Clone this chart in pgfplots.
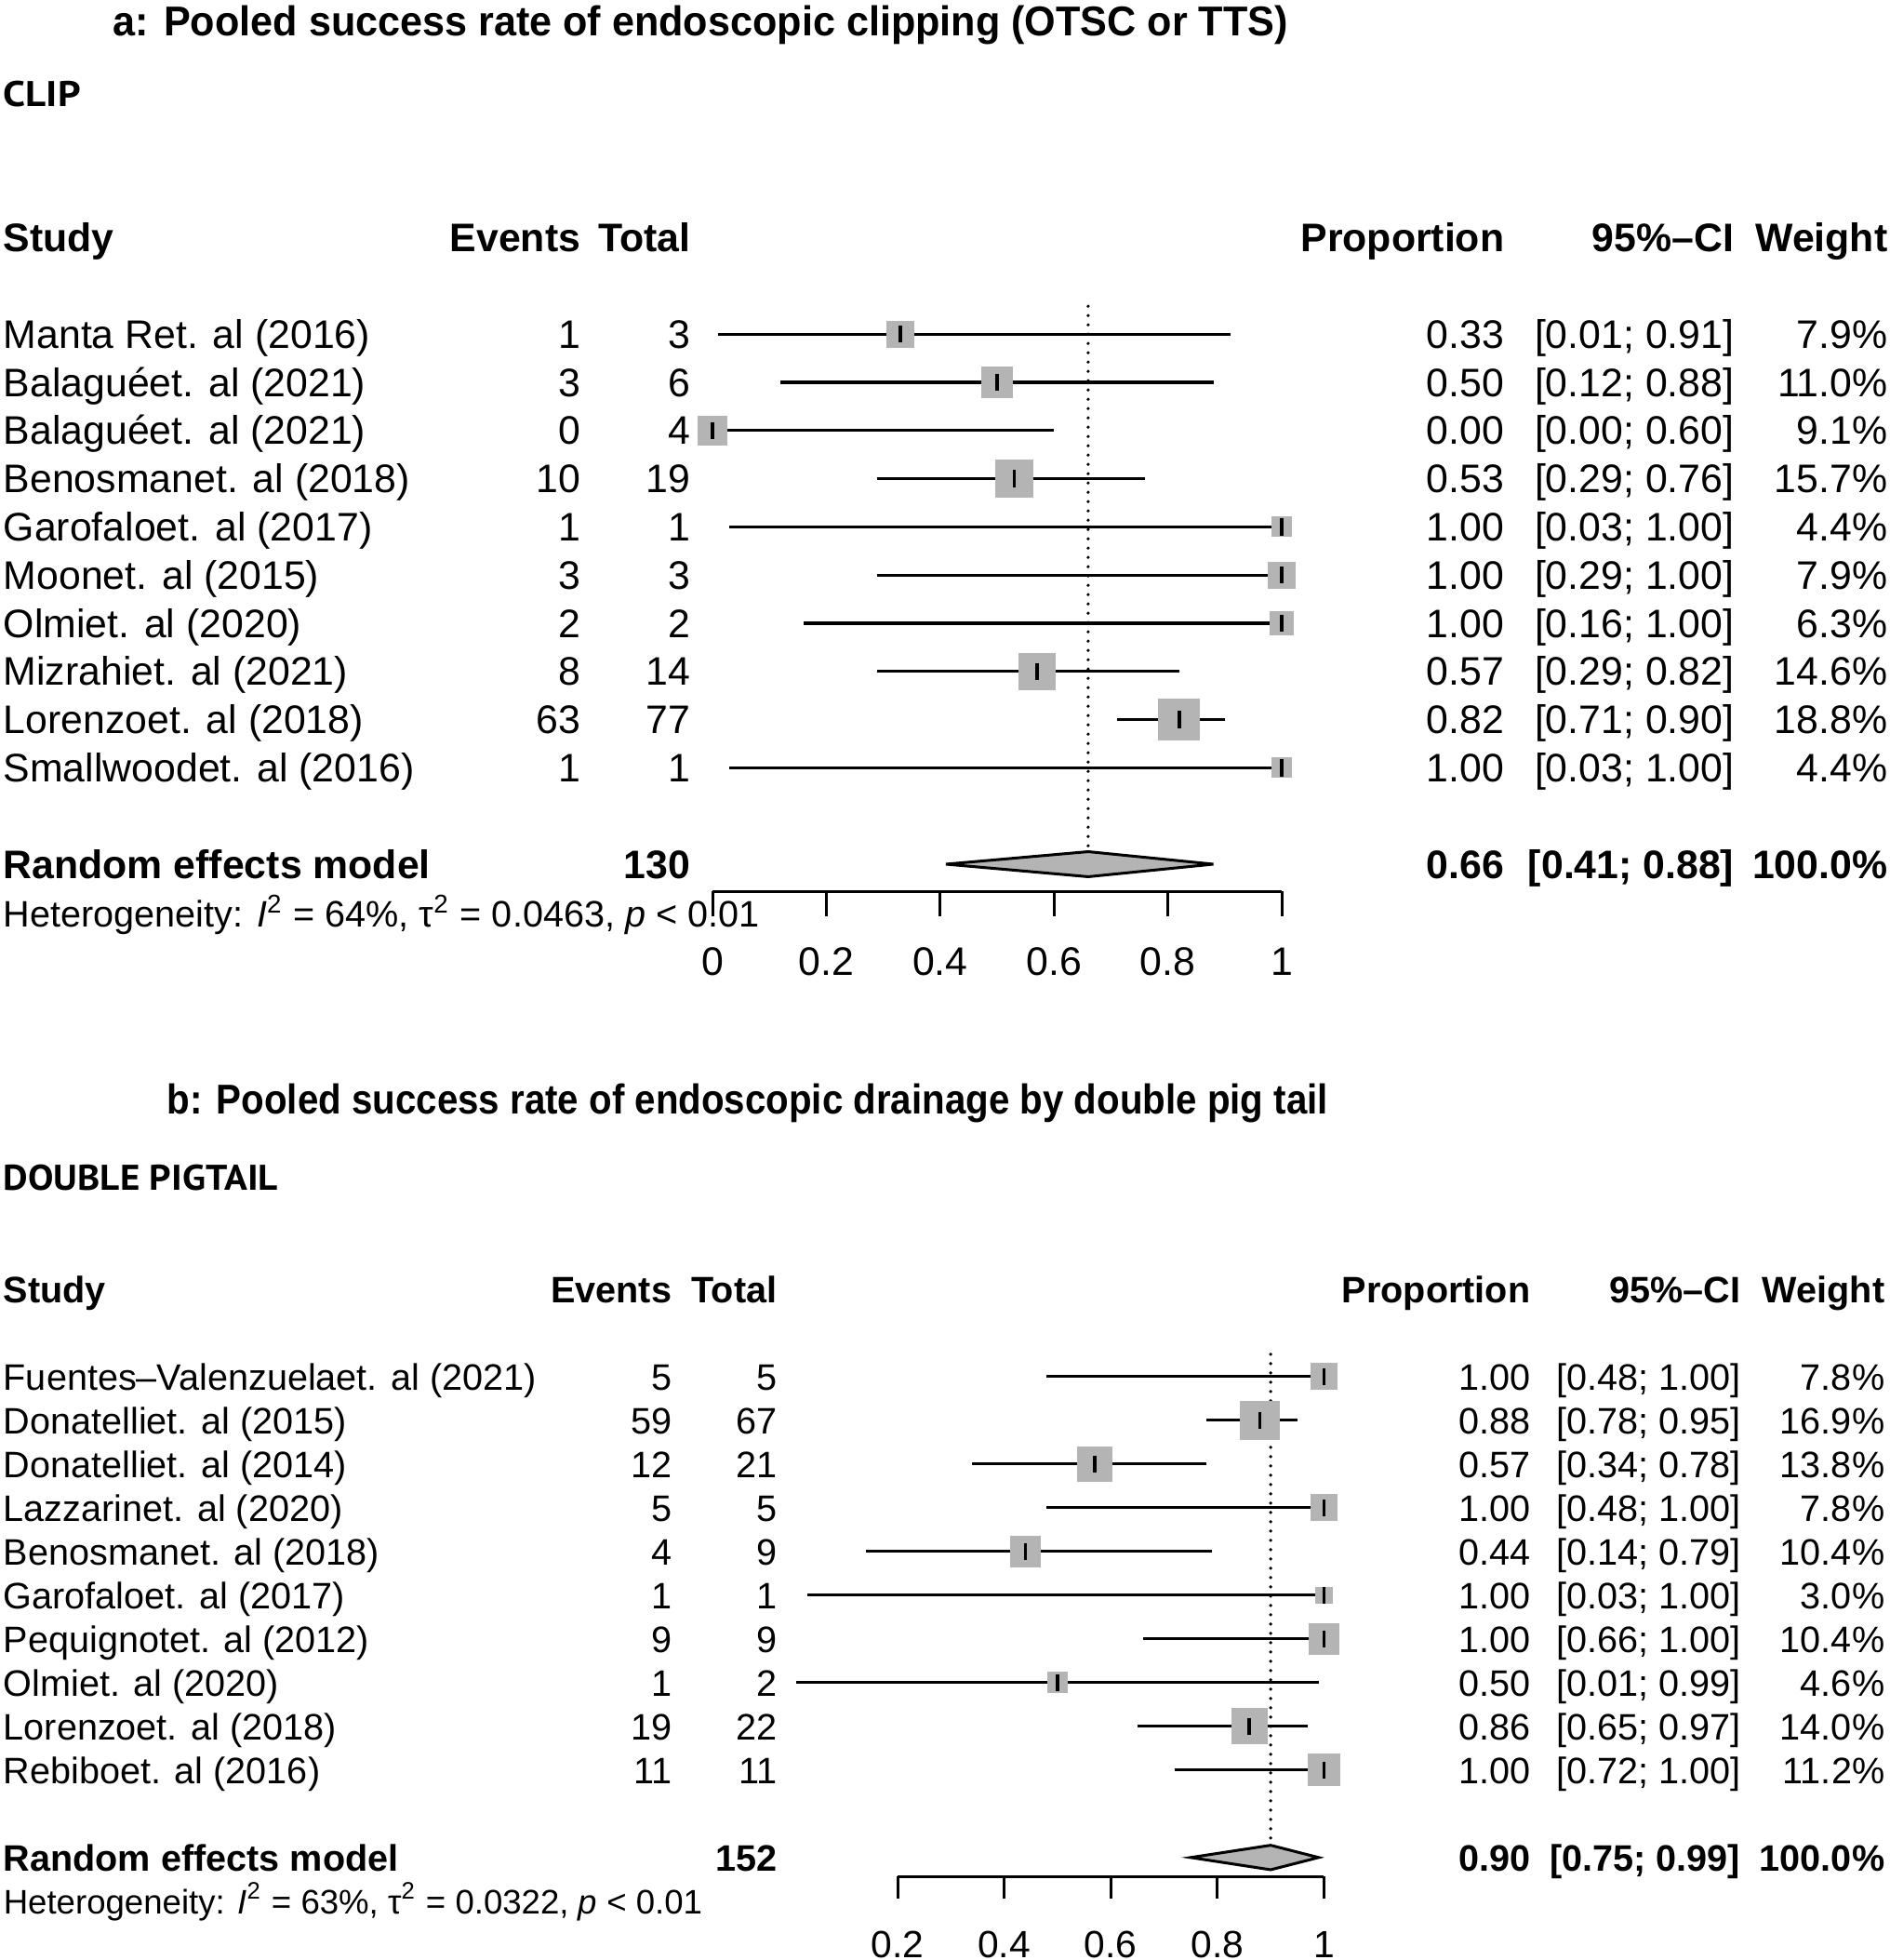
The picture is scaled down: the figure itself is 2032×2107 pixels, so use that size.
\documentclass[border=0pt]{standalone}
\usepackage{fontspec}
\setmainfont{Liberation Sans}
\newfontfamily\capfont{PT Sans}
\usepackage{graphicx}
\usepackage{pgfplots}
\usepackage{pgfplotstable}
\pgfplotsset{compat=1.18}

\definecolor{sq}{RGB}{180,180,180}

% panel a: clipping
\pgfplotstableread{
row p lo hi w
1 0.33 0.01 0.91 7.9
2 0.50 0.12 0.88 11.0
3 0.00 0.00 0.60 9.1
4 0.53 0.29 0.76 15.7
5 1.00 0.03 1.00 4.4
6 1.00 0.29 1.00 7.9
7 1.00 0.16 1.00 6.3
8 0.57 0.29 0.82 14.6
9 0.82 0.71 0.90 18.8
10 1.00 0.03 1.00 4.4
}\clipdata

% panel b: double pigtail
\pgfplotstableread{
row p lo hi w
1 1.00 0.48 1.00 7.8
2 0.88 0.78 0.95 16.9
3 0.57 0.34 0.78 13.8
4 1.00 0.48 1.00 7.8
5 0.44 0.14 0.79 10.4
6 1.00 0.03 1.00 3.0
7 1.00 0.66 1.00 10.4
8 0.50 0.01 0.99 4.6
9 0.86 0.65 0.97 14.0
10 1.00 0.72 1.00 11.2
}\pigdata

\pgfplotsset{
  forest/.style={
    anchor=south west, scale only axis, clip=false,
    axis x line*=bottom, axis y line=none,
    x axis line style={-, line width=0.75pt},
    ytick=\empty, xtick align=outside,
    tick style={black, line width=0.75pt},
    /pgf/number format/assume math mode=true,
    xticklabel style={anchor=center},
  },
  squares/.style={scatter, only marks, mark=square*,
    scatter/use mapped color={draw=sq, fill=sq},
    mark options={draw=sq, fill=sq, line width=0pt},
    visualization depends on={1.2625*sqrt(\thisrow{w}) \as \msz},
    scatter/@pre marker code/.append style={/tikz/mark size=\msz}},
  cis/.style={only marks, mark=|, mark size=2.3pt,
    mark options={draw=black, line width=0.9pt},
    error bars/.cd, x dir=both, x explicit, error mark=none,
    error bar style={black, line width=0.8pt}},
  refline/.style={black, line width=0.9pt, line cap=round, dash pattern=on 0pt off 2.5pt},
}

\begin{document}
\begin{tikzpicture}[x=0.25pt, y=-0.25pt]
\useasboundingbox (0,0) rectangle (2032,2107);

% ---------------- panel a ----------------
\begin{axis}[forest,
  at={(191.5pt,-239.5pt)}, width=153pt, height=162.65pt,
  xmin=0, xmax=1, ymin=-12.56, ymax=0,
  xtick={0,0.2,0.4,0.6,0.8,1}, major tick length=6.75pt,
  xticklabel style={font=\fontsize{10.7}{12}\selectfont, yshift=-12.25pt},
]
\addplot[refline] coordinates {(0.66,-0.42) (0.66,-11.74)};
\addplot[squares] table[x=p, y expr=-\thisrow{row}] {\clipdata};
\addplot[cis] table[x=p, y expr=-\thisrow{row},
  x error plus expr=\thisrow{hi}-\thisrow{p},
  x error minus expr=\thisrow{p}-\thisrow{lo}] {\clipdata};
\addplot[fill=sq, draw=black, line width=0.75pt] coordinates
  {(0.41,-12) (0.66,-11.74) (0.88,-12) (0.66,-12.26)} -- cycle;
\end{axis}

\begin{scope}[every node/.style={inner sep=0pt, font=\fontsize{10.7}{12}\selectfont}]
\node[anchor=base west] at (121,39) {\resizebox{315.75pt}{\height}{\fontsize{11.2}{13}\selectfont\bfseries a: Pooled success rate of endoscopic clipping (OTSC or TTS)}};
\node[anchor=base west] at (3,115) {\resizebox{20.75pt}{\height}{\capfont\fontsize{9.6}{11}\selectfont\bfseries CLIP}};
\begin{scope}[every node/.append style={font=\fontsize{10.7}{12}\selectfont\bfseries}]
\node[anchor=base west] at (3,270.3) {Study};
\node[anchor=base east] at (625,270.3) {Events};
\node[anchor=base east] at (743,270.3) {Total};
\node[anchor=base east] at (1618,270.3) {Proportion};
\node[anchor=base east] at (1865,270.3) {95\%–CI};
\node[anchor=base east] at (2030,270.3) {Weight};
\node[anchor=base west] at (3,944.3) {Random effects model};
\node[anchor=base east] at (743,944.3) {130};
\node[anchor=base east] at (1618,944.3) {0.66};
\node[anchor=base east] at (1865,944.3) {[0.41; 0.88]};
\node[anchor=base east] at (2030,944.3) {100.0\%};
\end{scope}
\foreach \nm/\ev/\tl/\pr/\ci/\wt [count=\i] in {
  Manta Ret. al (2016)/1/3/0.33/{[0.01; 0.91]}/7.9,
  Balaguéet. al (2021)/3/6/0.50/{[0.12; 0.88]}/11.0,
  Balaguéet. al (2021)/0/4/0.00/{[0.00; 0.60]}/9.1,
  Benosmanet. al (2018)/10/19/0.53/{[0.29; 0.76]}/15.7,
  Garofaloet. al (2017)/1/1/1.00/{[0.03; 1.00]}/4.4,
  Moonet. al (2015)/3/3/1.00/{[0.29; 1.00]}/7.9,
  Olmiet. al (2020)/2/2/1.00/{[0.16; 1.00]}/6.3,
  Mizrahiet. al (2021)/8/14/0.57/{[0.29; 0.82]}/14.6,
  Lorenzoet. al (2018)/63/77/0.82/{[0.71; 0.90]}/18.8,
  Smallwoodet. al (2016)/1/1/1.00/{[0.03; 1.00]}/4.4}{
  \pgfmathsetmacro\yb{359+(\i-1)*51.8+15.3}
  \node[anchor=base west] at (3,\yb) {\nm};
  \node[anchor=base east] at (625,\yb) {\ev};
  \node[anchor=base east] at (743,\yb) {\tl};
  \node[anchor=base east] at (1618,\yb) {\pr};
  \node[anchor=base east] at (1865,\yb) {\ci};
  \node[anchor=base east] at (2030,\yb) {\wt\%};
}
\node[anchor=base west, font=\fontsize{9.9}{12}\selectfont] at (3,996) {Heterogeneity: \textit{I}\textsuperscript{2} = 64\%, τ\textsuperscript{2} = 0.0463, \textit{p} < 0.01};
\end{scope}

% ---------------- panel b ----------------
\begin{axis}[forest,
  at={(241.25pt,-504.25pt)}, width=114.6pt, height=146.05pt,
  xmin=0.2, xmax=1, ymin=-12.43, ymax=0,
  xtick={0.2,0.4,0.6,0.8,1}, major tick length=6pt,
  xticklabel style={font=\fontsize{10.2}{12}\selectfont, yshift=-12.25pt},
]
\addplot[refline] coordinates {(0.90,-0.49) (0.90,-11.72)};
\addplot[squares] table[x=p, y expr=-\thisrow{row}] {\pigdata};
\addplot[cis] table[x=p, y expr=-\thisrow{row},
  x error plus expr=\thisrow{hi}-\thisrow{p},
  x error minus expr=\thisrow{p}-\thisrow{lo}] {\pigdata};
\addplot[fill=sq, draw=black, line width=0.75pt] coordinates
  {(0.75,-12) (0.90,-11.72) (0.99,-12) (0.90,-12.28)} -- cycle;
\end{axis}

\begin{scope}[every node/.style={inner sep=0pt, font=\fontsize{9.9}{12}\selectfont}]
\node[anchor=base west] at (179,1197) {\resizebox{312pt}{\height}{\fontsize{11.2}{13}\selectfont\bfseries b: Pooled success rate of endoscopic drainage by double pig tail}};
\node[anchor=base west] at (3,1279) {\resizebox{73.75pt}{\height}{\capfont\fontsize{9.6}{11}\selectfont\bfseries DOUBLE PIGTAIL}};
\begin{scope}[every node/.append style={font=\fontsize{9.9}{12}\selectfont\bfseries}]
\node[anchor=base west] at (3,1400.2) {Study};
\node[anchor=base east] at (723,1400.2) {Events};
\node[anchor=base east] at (836,1400.2) {Total};
\node[anchor=base east] at (1646,1400.2) {Proportion};
\node[anchor=base east] at (1872,1400.2) {95\%–CI};
\node[anchor=base east] at (2027,1400.2) {Weight};
\node[anchor=base west] at (3,2011.2) {Random effects model};
\node[anchor=base east] at (836,2011.2) {152};
\node[anchor=base east] at (1646,2011.2) {0.90};
\node[anchor=base east] at (1872,2011.2) {[0.75; 0.99]};
\node[anchor=base east] at (2027,2011.2) {100.0\%};
\end{scope}
\foreach \nm/\ev/\tl/\pr/\ci/\wt [count=\i] in {
  Fuentes–Valenzuelaet. al (2021)/5/5/1.00/{[0.48; 1.00]}/7.8,
  Donatelliet. al (2015)/59/67/0.88/{[0.78; 0.95]}/16.9,
  Donatelliet. al (2014)/12/21/0.57/{[0.34; 0.78]}/13.8,
  Lazzarinet. al (2020)/5/5/1.00/{[0.48; 1.00]}/7.8,
  Benosmanet. al (2018)/4/9/0.44/{[0.14; 0.79]}/10.4,
  Garofaloet. al (2017)/1/1/1.00/{[0.03; 1.00]}/3.0,
  Pequignotet. al (2012)/9/9/1.00/{[0.66; 1.00]}/10.4,
  Olmiet. al (2020)/1/2/0.50/{[0.01; 0.99]}/4.6,
  Lorenzoet. al (2018)/19/22/0.86/{[0.65; 0.97]}/14.0,
  Rebiboet. al (2016)/11/11/1.00/{[0.72; 1.00]}/11.2}{
  \pgfmathsetmacro\yb{1480+(\i-1)*47+14.2}
  \node[anchor=base west] at (3,\yb) {\nm};
  \node[anchor=base east] at (723,\yb) {\ev};
  \node[anchor=base east] at (836,\yb) {\tl};
  \node[anchor=base east] at (1646,\yb) {\pr};
  \node[anchor=base east] at (1872,\yb) {\ci};
  \node[anchor=base east] at (2027,\yb) {\wt\%};
}
\node[anchor=base west, font=\fontsize{9.15}{11}\selectfont] at (3,2057) {Heterogeneity: \textit{I}\textsuperscript{2} = 63\%, τ\textsuperscript{2} = 0.0322, \textit{p} < 0.01};
\end{scope}
\end{tikzpicture}
\end{document}
